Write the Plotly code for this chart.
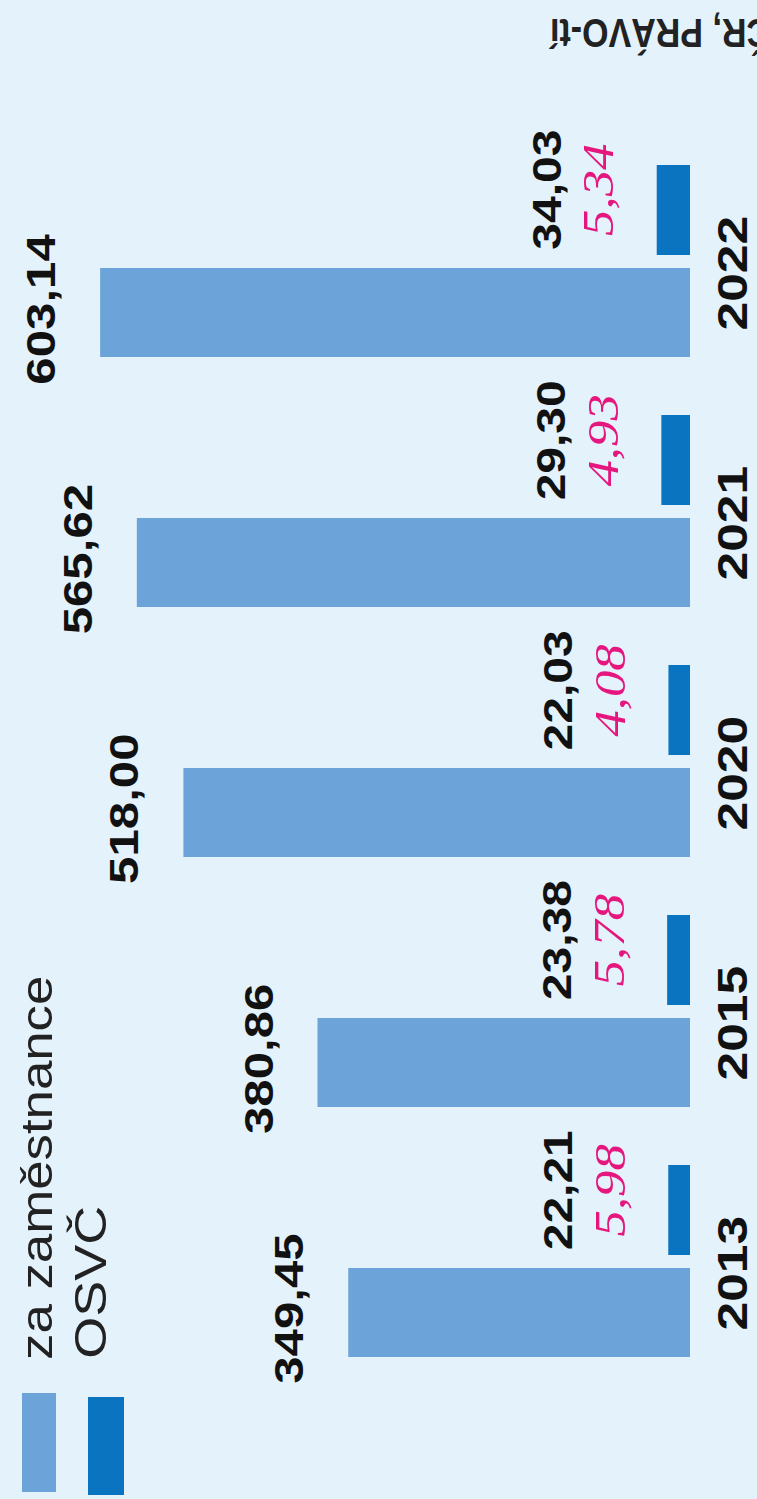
import plotly.graph_objects as go

# Data
years = ["2013", "2015", "2020", "2021", "2022"]
zamestnanci = [349.45, 380.86, 518.00, 565.62, 603.14]   # za zaměstnance
osvc = [22.21, 23.38, 22.03, 29.30, 34.03]                # OSVČ
osvc_pink = [5.98, 5.78, 4.08, 4.93, 5.34]                # doplňkové údaje OSVČ

legend_labels = ["za zaměstnance", "OSVČ"]
source_text = "ČR, PRÁVO-tí"

BG = "#E3F2FB"
C_LIGHT = "#6CA3D8"
C_DARK = "#0B74C0"
C_PINK = "#E5177E"
SANS = "Liberation Sans, Arial, sans-serif"
SERIF = "Liberation Serif, Times New Roman, serif"
STRETCH = 1.2   # the typography is drawn slightly elongated

W, H = 757, 1499
M_L, M_R, M_T, M_B = 0, 67, 136, 113
PW = W - M_L - M_R
PH = H - M_T - M_B


def fmt(v):
    return f"{v:.2f}".replace(".", ",")


def px_x(p):
    return (p - M_L) / PW


def px_y(p):
    return (H - M_B - p) / PH


fig = go.Figure()
fig.add_trace(go.Bar(
    y=years, x=zamestnanci, orientation="h", name=legend_labels[0],
    marker=dict(color=C_LIGHT, line=dict(width=0)),
    offset=-0.384, width=0.356, showlegend=False, hoverinfo="skip",
))
fig.add_trace(go.Bar(
    y=years, x=osvc, orientation="h", name=legend_labels[1],
    marker=dict(color=C_DARK, line=dict(width=0)),
    offset=0.024, width=0.36, showlegend=False, hoverinfo="skip",
))

ann = []
# category positions on the y axis are addressed by index
for i, v in enumerate(zamestnanci):
    ann.append(dict(
        x=v, y=i, xref="x", yref="y", text=fmt(v), showarrow=False,
        textangle=-90, xanchor="right", yanchor="middle",
        xshift=-34, yshift=-48,
        font=dict(family=SANS, size=41, color="#111111", weight="bold"),
    ))
for i, (v, p) in enumerate(zip(osvc, osvc_pink)):
    ann.append(dict(
        x=v, y=i, xref="x", yref="y", text=fmt(p), showarrow=False,
        textangle=-90, xanchor="right", yanchor="middle",
        xshift=-32, yshift=71,
        font=dict(family=SERIF, size=44, color=C_PINK, style="italic"),
    ))
    ann.append(dict(
        x=v, y=i, xref="x", yref="y", text=fmt(v), showarrow=False,
        textangle=-90, xanchor="right", yanchor="middle",
        xshift=-86, yshift=71,
        font=dict(family=SANS, size=40, color="#111111", weight="bold"),
    ))
for i, yr in enumerate(years):
    ann.append(dict(
        x=0, y=i, xref="x", yref="y", text=yr, showarrow=False,
        textangle=-90, xanchor="left", yanchor="middle",
        xshift=16, yshift=-12,
        font=dict(family=SANS, size=43, color="#111111", weight="bold"),
    ))

# legend drawn rotated, like the rest of the chart
shapes = [
    dict(type="rect", xref="paper", yref="paper", line=dict(width=0),
         x0=px_x(22), x1=px_x(56), y0=px_y(1492), y1=px_y(1393), fillcolor=C_LIGHT),
    dict(type="rect", xref="paper", yref="paper", line=dict(width=0),
         x0=px_x(88), x1=px_x(124), y0=px_y(1495), y1=px_y(1397), fillcolor=C_DARK),
]
ann.append(dict(
    x=px_x(36), y=px_y(1168), xref="paper", yref="paper", text=legend_labels[0],
    showarrow=False, textangle=-90, xanchor="center", yanchor="middle",
    font=dict(family=SANS, size=44, color="#222222"),
))
ann.append(dict(
    x=px_x(90), y=px_y(1282), xref="paper", yref="paper", text=legend_labels[1],
    showarrow=False, textangle=-90, xanchor="center", yanchor="middle",
    font=dict(family=SANS, size=45, color="#222222"),
))
# source line, printed upside down in the top-right corner
SRC_INDEX = len(ann)
ann.append(dict(
    x=px_x(660), y=px_y(33), xref="paper", yref="paper", text=source_text,
    showarrow=False, textangle=180, xanchor="center", yanchor="middle",
    font=dict(family=SANS, size=34, color="#222222", weight="bold"),
))

fig.update_layout(
    width=W, height=H,
    margin=dict(l=M_L, r=M_R, t=M_T, b=M_B, pad=0),
    paper_bgcolor=BG, plot_bgcolor=BG,
    barmode="overlay",
    xaxis=dict(range=[PW / 0.978, 0], visible=False, fixedrange=True),
    yaxis=dict(type="category", categoryorder="array", categoryarray=years,
               range=[-0.5, 4.5], visible=False, fixedrange=True),
    annotations=ann, shapes=shapes,
    showlegend=False,
)

# elongate every label along its reading direction
stretch_js = """
var gd = document.getElementById('{plot_id}');
gd.querySelectorAll('g.annotation').forEach(function (g) {
  var idx = parseInt(g.getAttribute('data-index'), 10);
  var t = g.querySelector('text.annotation-text');
  if (!t) { return; }
  t.style.transformBox = 'fill-box';
  t.style.transformOrigin = 'center';
  t.style.transform = (idx === SRC) ? 'scaleY(K)' : 'scaleX(K)';
});
""".replace("SRC", str(SRC_INDEX)).replace("K", str(STRETCH))

fig.write_html("out.html", config={"displayModeBar": False, "staticPlot": True},
               post_script=stretch_js)
